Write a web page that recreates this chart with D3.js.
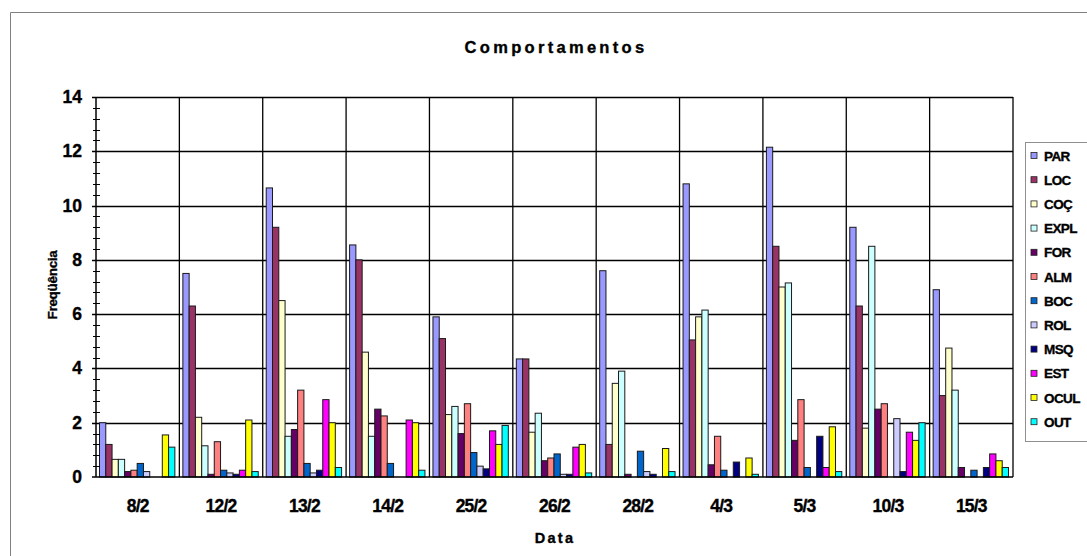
<!DOCTYPE html>
<html>
<head>
<meta charset="utf-8">
<script src="https://cdn.jsdelivr.net/npm/d3@7"></script>
<style>
  body { margin: 0; background: #fff; }
  text { font-family: "Liberation Sans", Arial, sans-serif; font-weight: bold; fill: #000; stroke: #000; stroke-width: 0.35px; }
</style>
</head>
<body>
<svg id="chart-svg"></svg>
<script>
// Datos
const DATAS = ["8/2", "12/2", "13/2", "14/2", "25/2", "26/2", "28/2", "4/3", "5/3", "10/3", "15/3"];
const SERIES = ["PAR", "LOC", "COÇ", "EXPL", "FOR", "ALM", "BOC", "ROL", "MSQ", "EST", "OCUL", "OUT"];
const CORES = ["#9999FF", "#993366", "#FFFFCC", "#CCFFFF", "#660066", "#FF8080",
               "#0066CC", "#CCCCFF", "#000080", "#FF00FF", "#FFFF00", "#00FFFF"];

const PAR  = [2.0, 7.5, 10.65, 8.55, 5.9, 4.35, 7.6, 10.8, 12.15, 9.2, 6.9];
const LOC  = [1.2, 6.3, 9.2, 8.0, 5.1, 4.35, 1.2, 5.05, 8.5, 6.3, 3.0];
const COC  = [0.65, 2.2, 6.5, 4.6, 2.3, 1.65, 3.45, 5.9, 7.0, 1.8, 4.75];
const EXPL = [0.65, 1.15, 1.5, 1.5, 2.6, 2.35, 3.9, 6.15, 7.15, 8.5, 3.2];
const FOR  = [0.2, 0.1, 1.75, 2.5, 1.6, 0.6, 0.1, 0.45, 1.35, 2.5, 0.35];
const ALM  = [0.25, 1.3, 3.2, 2.25, 2.7, 0.7, 0, 1.5, 2.85, 2.7, 0];
const BOC  = [0.5, 0.25, 0.5, 0.5, 0.9, 0.85, 0.95, 0.25, 0.35, 0, 0.25];
const ROL  = [0.2, 0.15, 0.15, 0, 0.4, 0.1, 0.2, 0, 0, 2.15, 0];
const MSQ  = [0, 0.1, 0.25, 0, 0.3, 0.1, 0.1, 0.55, 1.5, 0.2, 0.35];
const EST  = [0, 0.25, 2.85, 2.1, 1.7, 1.1, 0, 0, 0.35, 1.65, 0.85];
const OCUL = [1.55, 2.1, 2.0, 2.0, 1.2, 1.2, 1.05, 0.7, 1.85, 1.35, 0.6];
const OUT  = [1.1, 0.2, 0.35, 0.25, 1.9, 0.15, 0.2, 0.1, 0.2, 2.0, 0.35];

const VALORES = [PAR, LOC, COC, EXPL, FOR, ALM, BOC, ROL, MSQ, EST, OCUL, OUT];
const Y_TICKS = [0, 2, 4, 6, 8, 10, 12, 14];

// Configuración
const WIDTH = 1087;
const HEIGHT = 556;
const PLOT = { left: 96, right: 1013, top: 97, bottom: 477 };

const svg = d3.select('svg#chart-svg')
              .attr('width', WIDTH)
              .attr('height', HEIGHT);

// Borde exterior del gráfico
svg.append('path')
    .attr('d', `M10.5,${HEIGHT + 5} V12.5 H${WIDTH + 5}`)
    .attr('fill', 'none')
    .attr('stroke', '#808080')
    .attr('stroke-width', 1);

const escalaX = d3.scaleBand()
                  .domain(DATAS)
                  .range([PLOT.left, PLOT.right]);

const escalaSerie = d3.scaleBand()
                      .domain(SERIES)
                      .range([3.5, escalaX.bandwidth() - 4.5]);

const escalaY = d3.scaleLinear()
                  .domain([0, 14])
                  .range([PLOT.bottom, PLOT.top]);

const grid = svg.append('g').attr('id', 'grid');

// Líneas horizontales
grid.selectAll('line.h')
    .data(Y_TICKS.filter(d => d > 0))
    .join('line')
      .attr('class', 'h')
      .attr('x1', PLOT.left - 4)
      .attr('x2', PLOT.right)
      .attr('y1', d => Math.round(escalaY(d)) + 0.5)
      .attr('y2', d => Math.round(escalaY(d)) + 0.5)
      .attr('stroke', '#000')
      .attr('stroke-width', 1.3);

// Líneas verticales (límites de categoría)
grid.selectAll('line.v')
    .data(DATAS.slice(1).concat(['fim']))
    .join('line')
      .attr('class', 'v')
      .attr('x1', d => d === 'fim' ? PLOT.right : escalaX(d))
      .attr('x2', d => d === 'fim' ? PLOT.right : escalaX(d))
      .attr('y1', PLOT.top)
      .attr('y2', PLOT.bottom)
      .attr('stroke', '#000')
      .attr('stroke-width', 1.3);

// Barras
const grupos = svg.append('g')
    .attr('id', 'barras')
    .selectAll('g.grupo')
    .data(DATAS)
    .join('g')
      .attr('class', 'grupo')
      .attr('transform', d => `translate(${escalaX(d)}, 0)`);

grupos.selectAll('rect')
    .data((d, i) => SERIES.map((s, j) => ({ serie: s, cor: CORES[j], valor: VALORES[j][i] })))
    .join('rect')
      .filter(d => d.valor > 0)
      .attr('x', d => escalaSerie(d.serie))
      .attr('width', escalaSerie.bandwidth())
      .attr('y', d => escalaY(d.valor))
      .attr('height', d => escalaY(0) - escalaY(d.valor))
      .attr('fill', d => d.cor)
      .attr('stroke', '#1a1a1a')
      .attr('stroke-width', 1);

// Eixos
svg.append('line')
    .attr('x1', PLOT.left).attr('x2', PLOT.left)
    .attr('y1', PLOT.top).attr('y2', PLOT.bottom)
    .attr('stroke', '#000').attr('stroke-width', 1.5);

svg.append('line')
    .attr('x1', PLOT.left - 4).attr('x2', PLOT.right)
    .attr('y1', PLOT.bottom).attr('y2', PLOT.bottom)
    .attr('stroke', '#000').attr('stroke-width', 1.5);

// Ticks menores (cada 0.4)
const ticks_menores = d3.range(0, 14.01, 0.4).filter(d => Math.abs(d / 2 - Math.round(d / 2)) > 0.01);
svg.append('g')
    .selectAll('line')
    .data(ticks_menores)
    .join('line')
      .attr('x1', PLOT.left - 3)
      .attr('x2', PLOT.left + 4)
      .attr('y1', d => Math.round(escalaY(d)) + 0.5)
      .attr('y2', d => Math.round(escalaY(d)) + 0.5)
      .attr('stroke', '#000')
      .attr('stroke-width', 1);

// Etiquetas eixo Y
svg.append('g')
    .selectAll('text')
    .data(Y_TICKS)
    .join('text')
      .attr('x', 82)
      .attr('y', d => escalaY(d) + 6)
      .attr('text-anchor', 'end')
      .style('font-size', '17.5px')
      .text(d => d);

// Etiquetas eixo X
svg.append('g')
    .selectAll('text')
    .data(DATAS)
    .join('text')
      .attr('x', d => escalaX(d) + escalaX.bandwidth() / 2)
      .attr('y', 512)
      .attr('text-anchor', 'middle')
      .style('font-size', '17.5px')
      .style('letter-spacing', '-0.8px')
      .text(d => d);

// Títulos
svg.append('text')
    .attr('x', 556)
    .attr('y', 53)
    .attr('text-anchor', 'middle')
    .style('font-size', '16.5px')
    .style('letter-spacing', '3.3px')
    .text('Comportamentos');

svg.append('text')
    .attr('x', 555)
    .attr('y', 543)
    .attr('text-anchor', 'middle')
    .style('font-size', '14.5px')
    .style('letter-spacing', '2.3px')
    .text('Data');

svg.append('text')
    .attr('transform', 'translate(57, 285) rotate(-90)')
    .attr('text-anchor', 'middle')
    .style('font-size', '13.5px')
    .style('letter-spacing', '-0.3px')
    .text('Freqüência');

// Legenda
const legenda = svg.append('g').attr('id', 'legenda');

legenda.append('rect')
    .attr('x', 1025.5)
    .attr('y', 142.5)
    .attr('width', 80)
    .attr('height', 299)
    .attr('fill', '#fff')
    .attr('stroke', '#909090')
    .attr('stroke-width', 1);

const itens = legenda.selectAll('g.item')
    .data(SERIES)
    .join('g')
      .attr('class', 'item')
      .attr('transform', (d, i) => `translate(1031, ${155.5 + i * 24.2})`);

itens.append('rect')
    .attr('x', 0)
    .attr('y', -3)
    .attr('width', 6)
    .attr('height', 6)
    .attr('fill', (d, i) => CORES[i])
    .attr('stroke', '#222')
    .attr('stroke-width', 0.8);

itens.append('text')
    .attr('x', 13)
    .attr('y', 5)
    .style('font-size', '13.5px')
    .style('letter-spacing', '-0.6px')
    .text(d => d);
</script>
</body>
</html>
